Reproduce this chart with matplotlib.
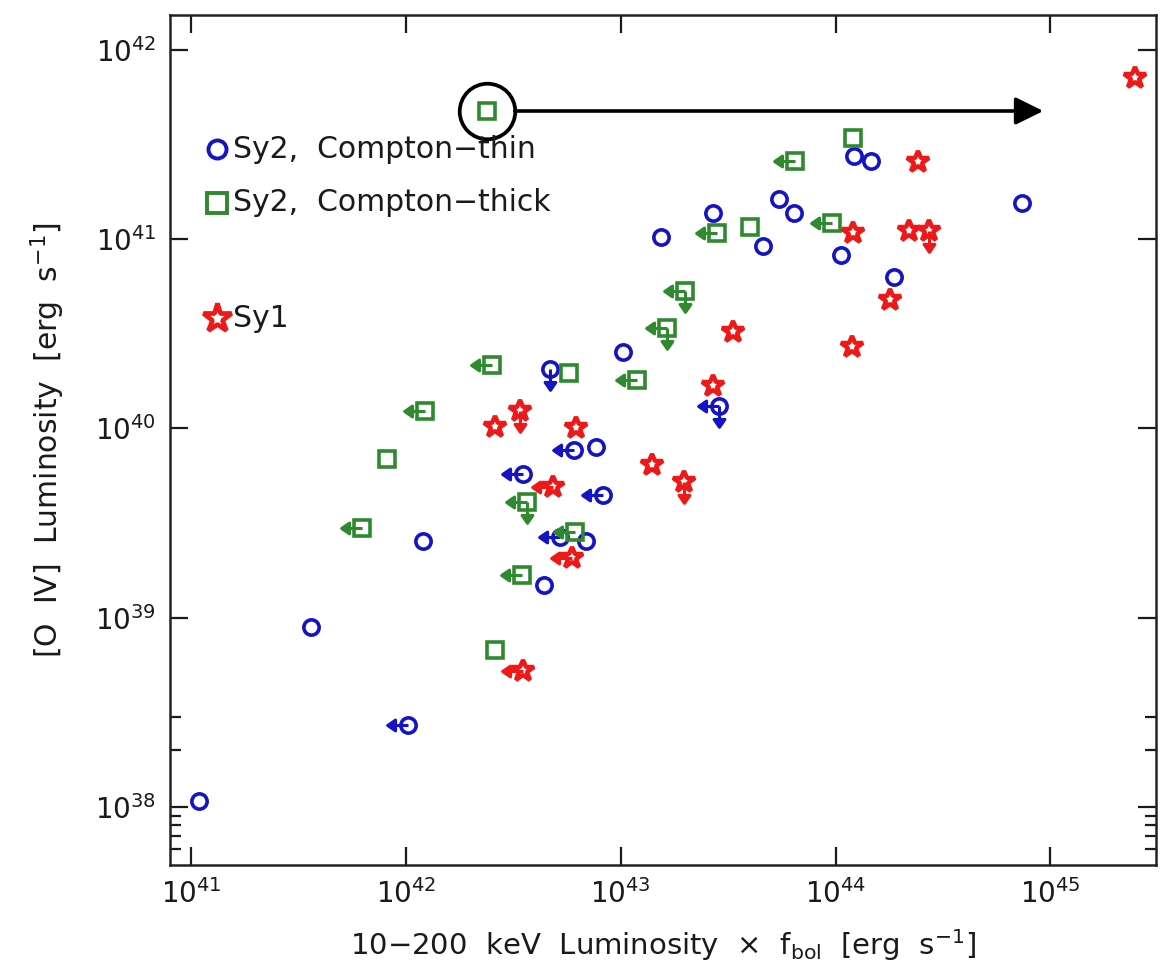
import numpy as np
import matplotlib
matplotlib.use("Agg")
import matplotlib.pyplot as plt
from matplotlib.path import Path
from matplotlib.ticker import FixedLocator, FuncFormatter, NullLocator, NullFormatter

plt.rcParams['font.family'] = ['DejaVu Sans']
plt.rcParams['mathtext.default'] = 'regular'

# Sy2, Compton-thin  (x: 10-200 keV L x f_bol, y: [O IV] L), lim: l = left arrow, d = down arrow
thin_x = [1.09e41, 3.62e41, 1.03e42, 1.20e42, 3.53e42, 4.70e42, 6.04e42, 7.70e42,
          5.24e42, 6.90e42, 4.41e42, 8.32e42, 1.03e43, 1.54e43, 2.69e43, 2.88e43,
          4.62e43, 5.47e43, 6.38e43, 1.06e44, 1.22e44, 1.46e44, 1.88e44, 7.37e44]
thin_y = [1.08e38, 8.9e38, 2.72e38, 2.53e39, 5.75e39, 2.06e40, 7.71e39, 7.97e39,
          2.67e39, 2.53e39, 1.49e39, 4.46e39, 2.55e40, 1.03e41, 1.37e41, 1.31e40,
          9.2e40, 1.63e41, 1.38e41, 8.26e40, 2.75e41, 2.60e41, 6.32e40, 1.56e41]
thin_lim = ['', '', 'l', '', 'l', 'd', 'l', '', 'l', '', '', 'l',
            '', '', '', 'ld', '', '', '', '', '', '', '', '']

# Sy2, Compton-thick
thick_x = [2.39e42, 1.23e42, 8.18e41, 6.25e41, 2.52e42, 5.77e42, 3.66e42, 6.15e42, 3.47e42,
           2.61e42, 1.19e43, 1.64e43, 2.00e43, 2.81e43, 4.01e43, 6.50e43, 9.62e43, 1.20e44]
thick_y = [4.76e41, 1.23e40, 6.88e39, 2.97e39, 2.17e40, 1.96e40, 4.11e39, 2.85e39, 1.69e39,
           6.77e38, 1.81e40, 3.39e40, 5.35e40, 1.08e41, 1.16e41, 2.60e41, 1.22e41, 3.42e41]
thick_lim = ['', 'l', '', 'l', 'l', '', 'ld', 'l', 'l',
             '', 'l', 'ld', 'ld', 'l', '', 'l', 'l', '']

# Sy1
sy1_x = [2.61e42, 3.39e42, 6.21e42, 4.87e42, 5.93e42, 3.53e42, 1.40e43, 1.98e43, 2.69e43,
         3.33e43, 1.19e44, 1.21e44, 1.80e44, 2.19e44, 2.71e44, 2.43e44, 2.48e45]
sy1_y = [1.02e40, 1.24e40, 1.00e40, 4.90e39, 2.07e39, 5.26e38, 6.42e39, 5.24e39, 1.68e40,
         3.25e40, 2.71e40, 1.08e41, 4.78e40, 1.10e41, 1.10e41, 2.57e41, 7.08e41]
sy1_lim = ['', 'd', '', 'l', 'l', 'l', '', 'd', '',
           '', '', '', '', '', 'd', '', '']

arrow_end_x = 9.27e44   # where the "moved" object's arrow points

blue = '#1414c4'
green = '#2f8a2f'
red = '#ee1818'

# upper-limit arrow markers (stem from the symbol centre, filled head)
M, L, C = Path.MOVETO, Path.LINETO, Path.CLOSEPOLY
left_v = [(0, 0), (-0.7, 0), (-1.0, 0), (-0.62, 0.26), (-0.62, -0.26), (-1.0, 0)]
codes = [M, L, M, L, L, C]
left_arrow = Path(left_v, codes)
down_arrow = Path([(y, x) for x, y in left_v], codes)

fig = plt.figure(figsize=(11.61, 9.63), dpi=100)
ax = fig.add_axes([0.1464, 0.1018, 0.8493, 0.8826])
ax.set_xscale('log')
ax.set_yscale('log')


def draw(xs, ys, lims, marker, color, ms, mew):
    for x, y, lim in zip(xs, ys, lims):
        if 'l' in lim:
            ax.plot(x, y, marker=left_arrow, ms=30, color=color, mec=color, mfc=color, mew=2.2)
        if 'd' in lim:
            ax.plot(x, y, marker=down_arrow, ms=30, color=color, mec=color, mfc=color, mew=2.2)
    ax.plot(xs, ys, ls='none', marker=marker, ms=ms, mfc='none', mec=color, mew=mew)


draw(thin_x, thin_y, thin_lim, 'o', blue, 11, 2.6)
draw(thick_x, thick_y, thick_lim, 's', green, 11.5, 2.6)
draw(sy1_x, sy1_y, sy1_lim, '*', red, 16.5, 3.2)

# circled object and arrow
ax.plot(thick_x[0], thick_y[0], marker='o', ms=40, mfc='none', mec='k', mew=2.7)
ax.annotate('', xy=(arrow_end_x, thick_y[0]), xytext=(thick_x[0], thick_y[0]),
            arrowprops=dict(arrowstyle='-|>,head_length=0.85,head_width=0.42', lw=2.6,
                            color='k', shrinkA=20, shrinkB=0, mutation_scale=20))

# legend
leg = [('o', blue, 13, 0.842, 'Sy2,  Compton\u2212thin', 2.8),
       ('s', green, 15, 0.779, 'Sy2,  Compton\u2212thick', 2.8),
       ('*', red, 21, 0.6435, 'Sy1', 3.4)]
for mk, col, size, fy, lab, w in leg:
    ax.plot([0.0477], [fy], transform=ax.transAxes, marker=mk, ms=size, mfc='none',
            mec=col, mew=w, clip_on=False)
    ax.text(0.064, fy, lab, transform=ax.transAxes, fontsize=21.5, va='center', ha='left',
            color='#1a1a1a')

ax.set_xlim(8.0e40, 3.1e45)
ax.set_ylim(4.94e37, 1.53e42)

ax.xaxis.set_major_locator(FixedLocator([1e41, 1e42, 1e43, 1e44, 1e45]))
ax.xaxis.set_minor_locator(NullLocator())
ax.yaxis.set_major_locator(FixedLocator([1e38, 1e39, 1e40, 1e41, 1e42]))
ax.yaxis.set_minor_locator(FixedLocator([6e37, 7e37, 8e37, 9e37, 2e38, 3e38]))
fmt = FuncFormatter(lambda v, p: '$10^{%d}$' % int(round(np.log10(v))))
ax.xaxis.set_major_formatter(fmt)
ax.yaxis.set_major_formatter(fmt)
ax.yaxis.set_minor_formatter(NullFormatter())

ax.tick_params(which='both', direction='in', top=True, right=True, labelsize=20, colors='#1a1a1a')
ax.tick_params(which='major', length=13, width=1.6, pad=10)
ax.tick_params(which='minor', length=8, width=1.6)
for s in ax.spines.values():
    s.set_linewidth(1.8)
    s.set_color('#222222')

ax.set_xlabel('10\u2212200  keV  Luminosity  \u00d7  f$_{bol}$  [erg  s$^{-1}$]', fontsize=21,
              labelpad=13, color='#1a1a1a')
ax.set_ylabel('[O  IV]  Luminosity  [erg  s$^{-1}$]', fontsize=21.5, labelpad=20, color='#1a1a1a')

fig.savefig('out.png', dpi=100)
